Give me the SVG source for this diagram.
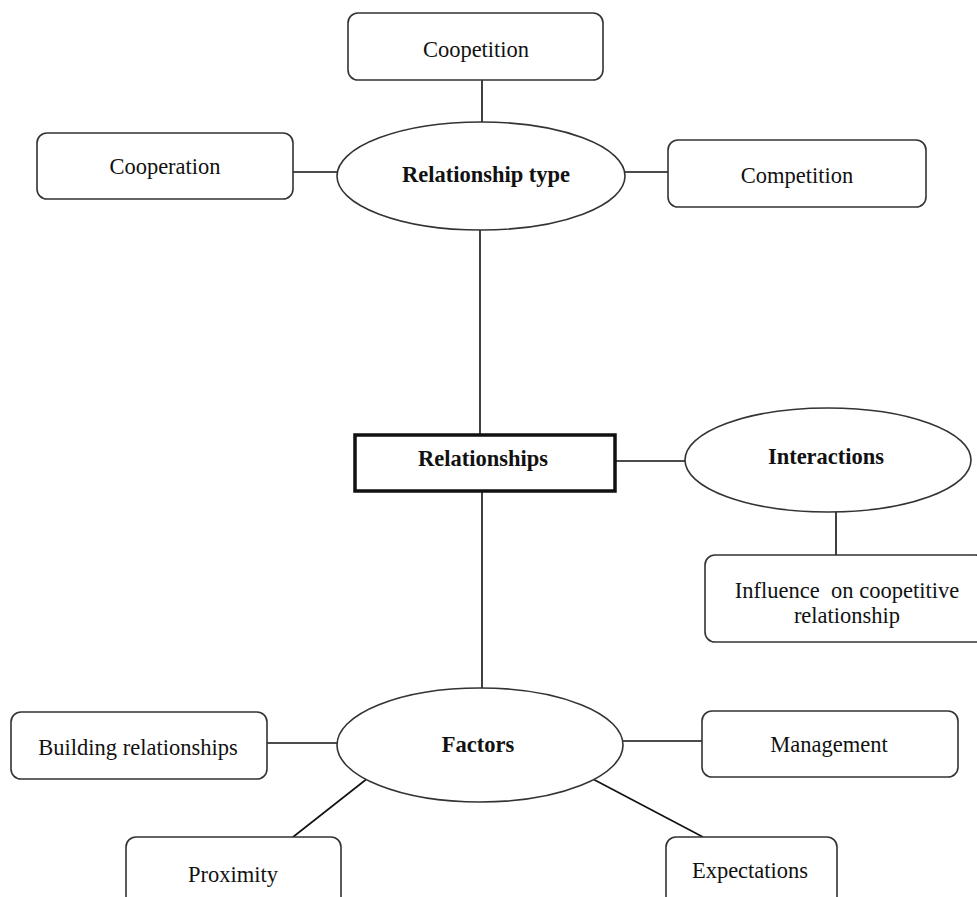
<svg xmlns="http://www.w3.org/2000/svg" width="977" height="897" viewBox="0 0 977 897">
<style>
.box{fill:#fff;stroke:#333;stroke-width:1.6}
.thick{fill:#fff;stroke:#111;stroke-width:3.5}
.ell{fill:#fff;stroke:#333;stroke-width:1.6}
.t{font-family:"Liberation Serif","Times New Roman",serif;font-size:22.5px;fill:#111;text-anchor:middle}
.b{font-weight:bold}
.c line{stroke:#111;stroke-width:1.6}
</style>
<rect width="977" height="897" fill="#fff"/>
<g class="c" id="connectors">
<line x1="482" y1="80" x2="482" y2="122"/>
<line x1="293" y1="172" x2="337" y2="172"/>
<line x1="625" y1="172" x2="668" y2="172"/>
<line x1="480" y1="230" x2="480" y2="435"/>
<line x1="615" y1="461" x2="685" y2="461"/>
<line x1="836" y1="512" x2="836" y2="555"/>
<line x1="482" y1="491" x2="482" y2="688"/>
<line x1="267" y1="743" x2="337" y2="743"/>
<line x1="623" y1="741" x2="702" y2="741"/>
<line x1="368" y1="778" x2="293" y2="837"/>
<line x1="589" y1="777" x2="703" y2="837"/>
</g>
<g id="coopetition"><rect class="box" x="348" y="13" width="255" height="67" rx="10"/><text class="t" x="476" y="57">Coopetition</text></g>
<g id="relationship-type"><ellipse class="ell" cx="481" cy="176" rx="144" ry="54"/><text class="t b" x="486" y="182">Relationship type</text></g>
<g id="cooperation"><rect class="box" x="37" y="133" width="256" height="66" rx="10"/><text class="t" x="165" y="174">Cooperation</text></g>
<g id="competition"><rect class="box" x="668" y="140" width="258" height="67" rx="10"/><text class="t" x="797" y="183">Competition</text></g>
<g id="relationships"><rect class="thick" x="355" y="435" width="260" height="56"/><text class="t b" x="483" y="466">Relationships</text></g>
<g id="interactions"><ellipse class="ell" cx="828" cy="460" rx="143" ry="52"/><text class="t b" x="826" y="464">Interactions</text></g>
<g id="influence"><rect class="box" x="705" y="555" width="280" height="87" rx="10"/><text class="t" x="847" y="598" xml:space="preserve">Influence  on coopetitive</text><text class="t" x="847" y="623">relationship</text></g>
<g id="factors"><ellipse class="ell" cx="480" cy="745" rx="143" ry="57"/><text class="t b" x="478" y="752">Factors</text></g>
<g id="building-relationships"><rect class="box" x="11" y="712" width="256" height="67" rx="10"/><text class="t" x="138" y="755">Building relationships</text></g>
<g id="management"><rect class="box" x="702" y="711" width="256" height="66" rx="10"/><text class="t" x="829" y="752">Management</text></g>
<g id="proximity"><rect class="box" x="126" y="837" width="215" height="80" rx="10"/><text class="t" x="233" y="882">Proximity</text></g>
<g id="expectations"><rect class="box" x="666" y="837" width="171" height="80" rx="10"/><text class="t" x="750" y="878">Expectations</text></g>
</svg>
